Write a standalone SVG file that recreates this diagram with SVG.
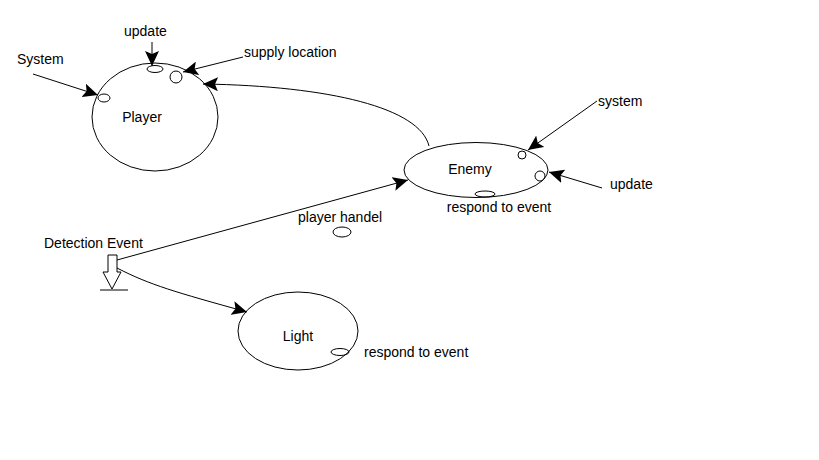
<svg xmlns="http://www.w3.org/2000/svg" width="819" height="460" viewBox="0 0 819 460">
<defs>
<style>
.n{fill:none;stroke:#000;stroke-width:1}
.c{fill:none;stroke:#000;stroke-width:1}
.t{font-family:"Liberation Sans",Arial,sans-serif;font-size:14px;fill:#000}
</style>
<marker id="ah" markerUnits="userSpaceOnUse" markerWidth="16" markerHeight="14" viewBox="0 0 16 14" refX="15" refY="7" orient="auto">
<path d="M0,0 L15,7 L0,14 L3,7 z" fill="#000"/>
</marker>
</defs>
<rect width="819" height="460" fill="#fff"/>
<g id="player">
<ellipse class="n" cx="155" cy="117" rx="63" ry="54"/>
<ellipse class="n" cx="155" cy="69" rx="8" ry="3.5"/>
<circle class="n" cx="176" cy="77" r="6"/>
<ellipse class="n" cx="104" cy="98" rx="6" ry="4"/>
<text class="t" x="142" y="122" text-anchor="middle">Player</text>
</g>
<g id="enemy">
<ellipse class="n" cx="476" cy="170" rx="72" ry="27.5"/>
<circle class="n" cx="522" cy="155" r="4"/>
<circle class="n" cx="540" cy="176" r="5"/>
<ellipse class="n" cx="485" cy="194" rx="10" ry="3"/>
<text class="t" x="470" y="174" text-anchor="middle">Enemy</text>
<text class="t" x="499" y="212" text-anchor="middle">respond to event</text>
</g>
<g id="light">
<ellipse class="n" cx="298" cy="331" rx="60" ry="39"/>
<ellipse class="n" cx="340" cy="352" rx="9" ry="3.5"/>
<text class="t" x="298" y="341" text-anchor="middle">Light</text>
<text class="t" x="364" y="357">respond to event</text>
</g>
<g id="player-handel">
<ellipse class="n" cx="342" cy="232" rx="9" ry="5"/>
<text class="t" x="298" y="222">player handel</text>
</g>
<g id="detection-event">
<path class="n" d="M108,255 L117,255 L117,272 L121,272 L112,289 L103,272 L108,272 Z"/>
<line class="n" x1="100" y1="290" x2="128" y2="290"/>
<text class="t" x="44" y="248">Detection Event</text>
</g>
<g id="labels">
<text class="t" x="17" y="64">System</text>
<text class="t" x="124" y="36">update</text>
<text class="t" x="244" y="57">supply location</text>
<text class="t" x="598" y="106">system</text>
<text class="t" x="610" y="189">update</text>
</g>
<g id="connectors">
<line class="c" x1="33" y1="74" x2="98" y2="95" marker-end="url(#ah)"/>
<line class="c" x1="152" y1="42" x2="152" y2="66" marker-end="url(#ah)"/>
<line class="c" x1="243" y1="57" x2="183" y2="72" marker-end="url(#ah)"/>
<path class="c" d="M429,146 C420,108 330,86 203,84" marker-end="url(#ah)"/>
<line class="c" x1="597" y1="101" x2="528" y2="150" marker-end="url(#ah)"/>
<line class="c" x1="602" y1="188" x2="549" y2="172" marker-end="url(#ah)"/>
<line class="c" x1="117" y1="260" x2="408" y2="180" marker-end="url(#ah)"/>
<path class="c" d="M117,268 C150,285 175,292 247,312" marker-end="url(#ah)"/>
</g>
</svg>
